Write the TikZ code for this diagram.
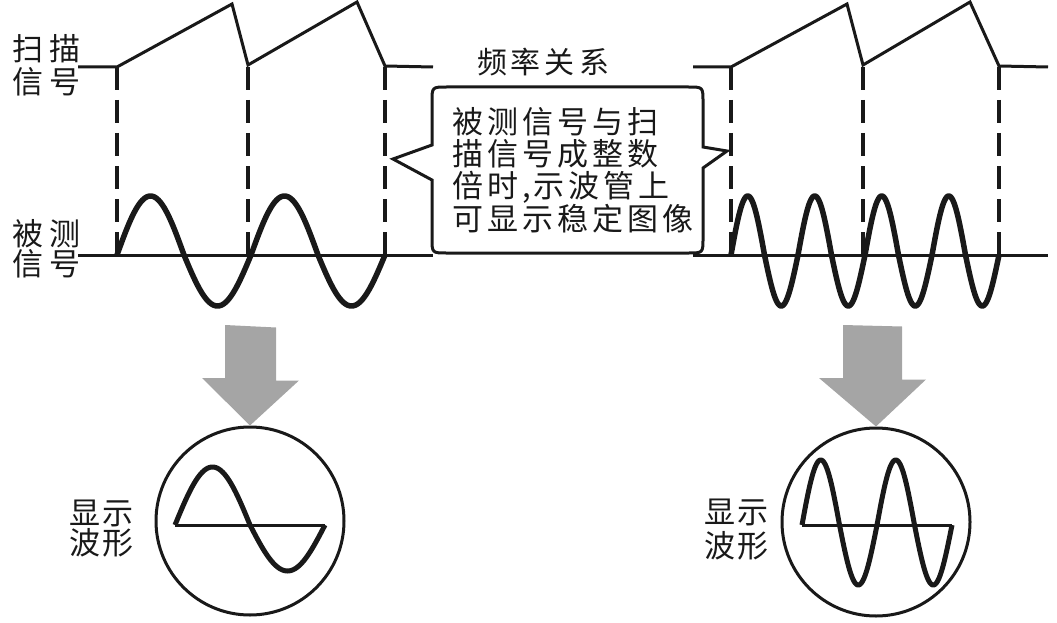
\documentclass[tikz,border=0pt]{standalone}
\usepackage{fontspec}
\newfontfamily\cjk{Noto Sans CJK SC}
\newlength\cpitch
\def\spc#1{\spcA#1\relax}
\def\spcA#1{\ifx\relax#1\else\makebox[\cpitch][l]{#1}\expandafter\spcA\fi}
\definecolor{arrowgray}{RGB}{165,165,165}
\definecolor{ink}{RGB}{25,25,25}
\tikzset{
  thinline/.style={line width=3pt, draw=ink},
  sig/.style={line width=5.5pt, draw=ink, line join=round},
  vdash/.style={line width=4pt, draw=ink, dash pattern=on 23pt off 10pt},
  lbl/.style={inner sep=0pt, anchor=west, text=ink, font=\cjk\fontsize{31pt}{31pt}\selectfont},
  box/.style={inner sep=0pt, anchor=west, text=ink, font=\cjk\fontsize{31pt}{31pt}\selectfont},
  screen/.style={circle, draw=ink, line width=3pt, inner sep=0pt},
  bigarrow/.style={fill=arrowgray, draw=none},
}
\begin{document}
\begin{tikzpicture}[x=1pt,y=-1pt]
\useasboundingbox (0,0) rectangle (1057,623);

% ---------- left panel ----------
\draw[thinline, line join=miter] (78,67) -- (117,67) -- (232,4) -- (248,65) -- (357,2) -- (385,66) -- (433,67);
\draw[thinline] (78,255) -- (433,255);
\foreach \xx in {117,248,385} \draw[vdash] (\xx,67) -- (\xx,255);
\draw[sig] plot[domain=0:268, samples=240, smooth] ({117+\x},{255-(sin(\x/134*360)>0 ? 59 : 51)*sin(\x/134*360)});

\setlength\cpitch{37pt}
\node[lbl] (l1a) at (12,49) {\spc{扫描}};
\node[lbl] (l1b) at (12,82) {\spc{信号}};
\node[lbl] (l2a) at (12,234) {\spc{被测}};
\node[lbl] (l2b) at (12,264) {\spc{信号}};

% ---------- right panel ----------
\draw[thinline, line join=miter] (693,67) -- (731,67) -- (847,4) -- (863,65) -- (970,2) -- (999,66) -- (1048,67);
\draw[thinline] (693,255) -- (1048,255);
\foreach \xx in {731,863,999} \draw[vdash] (\xx,67) -- (\xx,255);
\draw[sig] plot[domain=0:268, samples=400, smooth] ({731+\x},{255-(sin(\x/67*360)>0 ? 59 : 51)*sin(\x/67*360)});

% ---------- callout ----------
\node[inner sep=0pt, text=ink, font=\cjk\fontsize{30pt}{30pt}\selectfont] (title) at (545,62) {\setlength\cpitch{34pt}\spc{频率关系}};
\draw[thinline, line join=miter] (432,145) -- (432,102) .. controls (432,87) .. (447,87) -- (688,87)
  .. controls (703,87) .. (703,102) -- (703,147) -- (727,151) -- (703,168) -- (703,238)
  .. controls (703,253) .. (688,253) -- (447,253) .. controls (432,253) .. (432,238)
  -- (432,180) -- (393,159) -- cycle;
\setlength\cpitch{35pt}
\node[box] (t1) at (452,122) {\spc{被测信号与扫}};
\node[box] (t2) at (452,154) {\spc{描信号成整数}};
\node[box] (t3) at (452,187) {\spc{倍时}\makebox[11pt][l]{,}\spc{示波管上}};
\node[box] (t4) at (452,219) {\spc{可显示稳定图像}};

% ---------- screens ----------
\node[screen, minimum size=188pt] (c1) at (250,521) {};
\node[screen, minimum size=188pt] (c2) at (876,522) {};

\coordinate (a1) at (251,325);
\coordinate (a2) at (869,325);
\fill[bigarrow] (a1) ++(-26,0) -- ++(0,53) -- ++(-23,0) -- (c1.north) -- ++(49,-45) -- ++(-23,0) -- ++(0,-53) -- cycle;
\fill[bigarrow] (a2) ++(-26,0) -- ++(0,53) -- ++(-24,0) -- (c2.north) -- ++(50,-47) -- ++(-24,0) -- ++(0,-53) -- cycle;

\draw[thinline] (175,525) -- (325,525);
\draw[line width=5pt, draw=ink, line join=round] plot[domain=0:150, samples=200, smooth] ({175+\x},{525-(sin(\x/150*360)>0 ? 58 : 46)*sin(\x/150*360)});
\draw[thinline] (802,525) -- (952,525);
\draw[line width=5pt, draw=ink, line join=round] plot[domain=0:150, samples=300, smooth] ({802+\x},{525-(sin(\x/75*360)>0 ? 65 : 60)*sin(\x/75*360)});

\setlength\cpitch{33pt}
\node[lbl] (d1a) at (69,513) {\spc{显示}};
\node[lbl] (d1b) at (69,543) {\spc{波形}};
\node[lbl] (d2a) at (704,512) {\spc{显示}};
\node[lbl] (d2b) at (704,546) {\spc{波形}};
\end{tikzpicture}
\end{document}
